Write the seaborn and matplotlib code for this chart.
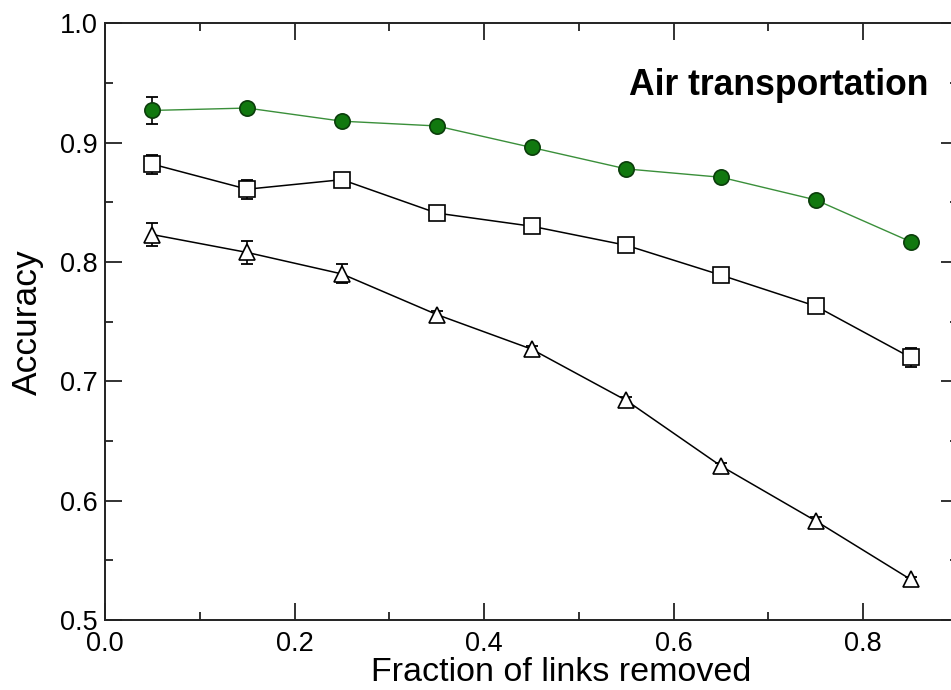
import numpy as np
import pandas as pd
import matplotlib
matplotlib.use("Agg")
import matplotlib.pyplot as plt
import seaborn as sns
from matplotlib.ticker import MultipleLocator

# data
frac_removed = [0.05, 0.15, 0.25, 0.35, 0.45, 0.55, 0.65, 0.75, 0.85]
acc_circle = [0.927, 0.929, 0.918, 0.914, 0.896, 0.878, 0.871, 0.852, 0.817]
err_circle = [0.011, 0.003, 0.003, 0.003, 0.003, 0.003, 0.003, 0.003, 0.003]
acc_square = [0.882, 0.861, 0.869, 0.841, 0.830, 0.814, 0.789, 0.763, 0.720]
err_square = [0.008, 0.008, 0.006, 0.004, 0.004, 0.006, 0.004, 0.004, 0.008]
acc_triangle = [0.823, 0.808, 0.790, 0.756, 0.727, 0.684, 0.629, 0.583, 0.534]
err_triangle = [0.010, 0.010, 0.008, 0.003, 0.003, 0.003, 0.003, 0.003, 0.002]

sns.set_style("ticks")
plt.rcParams['font.family'] = ['Liberation Sans', 'DejaVu Sans']
plt.rcParams['text.color'] = 'black'
plt.rcParams['axes.labelcolor'] = 'black'
plt.rcParams['xtick.labelcolor'] = 'black'
plt.rcParams['ytick.labelcolor'] = 'black'

fig = plt.figure(figsize=(9.51, 6.9), dpi=100)
# axes runs slightly past the right edge, like the cropped original
ax = fig.add_axes([0.1104, 0.1014, 0.8970, 0.8648])

green_fill = '#11780f'
green_line = '#3a8f3a'

series = [
    (acc_circle, err_circle, 'o', green_fill, '#0b3d0b', green_line, 1.0),
    (acc_square, err_square, 's', 'white', 'black', 'black', 1.1),
    (acc_triangle, err_triangle, '^', 'white', 'black', 'black', 1.1),
]

for acc, err, mk, fc, ec, lc, lw in series:
    df = pd.DataFrame({'x': frac_removed, 'y': acc})
    ax.errorbar(frac_removed, acc, yerr=err, fmt='none', ecolor='black',
                elinewidth=1.2, capsize=4, capthick=1.3, zorder=2)
    sns.lineplot(data=df, x='x', y='y', ax=ax, color=lc, linewidth=lw,
                 marker=mk, markersize=11, markerfacecolor=fc,
                 markeredgecolor=ec, markeredgewidth=1.2, zorder=3)

ax.set_xlim(0.0, 0.9)
ax.set_ylim(0.5, 1.0)
ax.xaxis.set_minor_locator(MultipleLocator(0.1))
ax.yaxis.set_minor_locator(MultipleLocator(0.05))
ax.set_xticks([0.0, 0.2, 0.4, 0.6, 0.8])
ax.set_xticklabels(['0.0', '0.2', '0.4', '0.6', '0.8'])
ax.set_yticks([0.5, 0.6, 0.7, 0.8, 0.9, 1.0])
ax.set_yticklabels(['0.5', '0.6', '0.7', '0.8', '0.9', '1.0'])

ax.tick_params(which='both', direction='in', top=True, right=True,
               color='#222222', width=1.3, labelsize=19.5)
ax.tick_params(which='major', length=12)
ax.tick_params(which='minor', length=6)
ax.tick_params(axis='x', pad=7.8)
ax.tick_params(axis='y', pad=5.5)
for sp in ax.spines.values():
    sp.set_linewidth(1.4)
    sp.set_color('#222222')

ax.set_xlabel('Fraction of links removed', fontsize=24.5, va='baseline')
ax.set_ylabel('Accuracy', fontsize=25.5)
ax.xaxis.set_label_coords(0.5346, -0.1030)
ax.yaxis.set_label_coords(-0.071, 0.5)

ax.text(0.869, 0.940, 'Air transportation', fontsize=25.6, fontweight='bold',
        ha='right', va='baseline')

plt.savefig('out.png', dpi=100)
